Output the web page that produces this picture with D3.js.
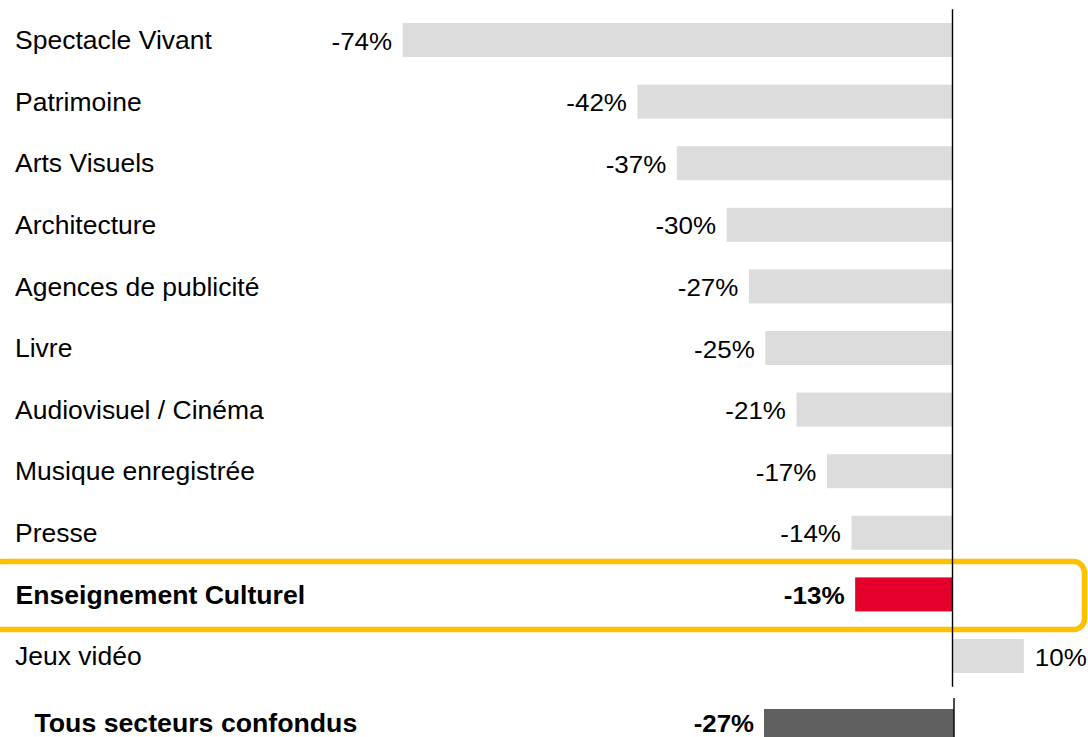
<!DOCTYPE html>
<html>
<head>
<meta charset="utf-8">
<script src="https://cdn.jsdelivr.net/npm/d3@7"></script>
<style>
  html, body { margin: 0; padding: 0; background: #fff; }
  svg { display: block; }
  text { font-family: "Liberation Sans", Arial, sans-serif; fill: #000; }
</style>
</head>
<body>
<svg id="chart" width="1088" height="737"></svg>
<script>
// ---- data ----
const categories = [
  "Spectacle Vivant",
  "Patrimoine",
  "Arts Visuels",
  "Architecture",
  "Agences de publicité",
  "Livre",
  "Audiovisuel / Cinéma",
  "Musique enregistrée",
  "Presse",
  "Enseignement Culturel",
  "Jeux vidéo"
];
const values = [-74.0, -42.4, -37.1, -30.4, -27.4, -25.2, -21.0, -16.9, -13.6, -13.1, 9.6];
const highlightCategory = "Enseignement Culturel";
const totalCategories = ["Tous secteurs confondus"];
const totalValues = [-27];

// ---- styles ----
const colGray = "#dcdcdc";
const colHighlight = "#e4002b";
const colTotal = "#5f5f5f";
const colFrame = "#ffc000";

const svg = d3.select("#chart");
const fmt = v => Math.round(v) + "%";

// ---- scales ----
const x = d3.scaleLinear().domain([-80, 20]).range([952.5 - 80 * 7.43, 952.5 + 20 * 7.43]);
const y = d3.scaleBand().domain(categories).range([9.2, 686.8]).paddingInner(0.448).paddingOuter(0.224);

const xT = d3.scaleLinear().domain([-27, 0]).range([764, 954]);
const yT = d3.scaleBand().domain(totalCategories).range([709, 743]);

const rows = categories.map((c, i) => ({ c, v: values[i] }));

// highlight frame
const hy = y(highlightCategory);
svg.append("rect")
  .attr("x", -10)
  .attr("y", hy - 15.8)
  .attr("width", 1084.5 + 10)
  .attr("height", 68)
  .attr("rx", 11)
  .attr("fill", "none")
  .attr("stroke", colFrame)
  .attr("stroke-width", 5.5);

// bars
svg.append("g").selectAll("rect").data(rows).join("rect")
  .attr("x", d => x(Math.min(0, d.v)))
  .attr("y", d => y(d.c))
  .attr("width", d => Math.abs(x(d.v) - x(0)))
  .attr("height", y.bandwidth())
  .attr("fill", d => d.c === highlightCategory ? colHighlight : colGray);

// category labels
svg.append("g").selectAll("text").data(rows).join("text")
  .attr("transform", d => d.c === highlightCategory
      ? `translate(15.5,${y(d.c) + y.bandwidth() / 2 + 9.3})`
      : `translate(15,${y(d.c) + y.bandwidth() / 2 + 9.2}) scale(1.06,1)`)
  .attr("font-size", d => d.c === highlightCategory ? 26.6 : 25)
  .attr("font-weight", d => d.c === highlightCategory ? "bold" : "normal")
  .text(d => d.c);

// value labels
svg.append("g").selectAll("text").data(rows).join("text")
  .attr("transform", d => {
    const cy = y(d.c) + y.bandwidth() / 2 + 9.5;
    const bold = d.c === highlightCategory;
    const sx = bold ? 1.11 : 1.13;
    const px = d.v < 0 ? x(d.v) - 10.5 : x(d.v) + 11;
    return `translate(${px},${cy}) scale(${sx},1)`;
  })
  .attr("text-anchor", d => d.v < 0 ? "end" : "start")
  .attr("font-size", d => d.c === highlightCategory ? 23.5 : 23)
  .attr("font-weight", d => d.c === highlightCategory ? "bold" : "normal")
  .text(d => fmt(d.v));

// zero axis
svg.append("line")
  .attr("x1", x(0)).attr("x2", x(0))
  .attr("y1", y.range()[0]).attr("y2", y.range()[1])
  .attr("stroke", "#000").attr("stroke-width", 1.4);

// ---- total section ----
const totals = totalCategories.map((c, i) => ({ c, v: totalValues[i] }));
svg.append("g").selectAll("rect").data(totals).join("rect")
  .attr("x", d => xT(Math.min(0, d.v)))
  .attr("y", d => yT(d.c))
  .attr("width", d => Math.abs(xT(d.v) - xT(0)))
  .attr("height", yT.bandwidth())
  .attr("fill", colTotal);

svg.append("g").selectAll("text").data(totals).join("text")
  .attr("x", 34.5)
  .attr("y", d => yT(d.c) + 22.5)
  .attr("font-size", 26.7)
  .attr("font-weight", "bold")
  .text(d => d.c);

svg.append("g").selectAll("text").data(totals).join("text")
  .attr("transform", d => `translate(${xT(d.v) - 10},${yT(d.c) + 22.5}) scale(1.1,1)`)
  .attr("text-anchor", "end")
  .attr("font-size", 23.5)
  .attr("font-weight", "bold")
  .text(d => fmt(d.v));

svg.append("line")
  .attr("x1", xT(0)).attr("x2", xT(0))
  .attr("y1", 698).attr("y2", 745)
  .attr("stroke", "#000").attr("stroke-width", 1.4);
</script>
</body>
</html>
